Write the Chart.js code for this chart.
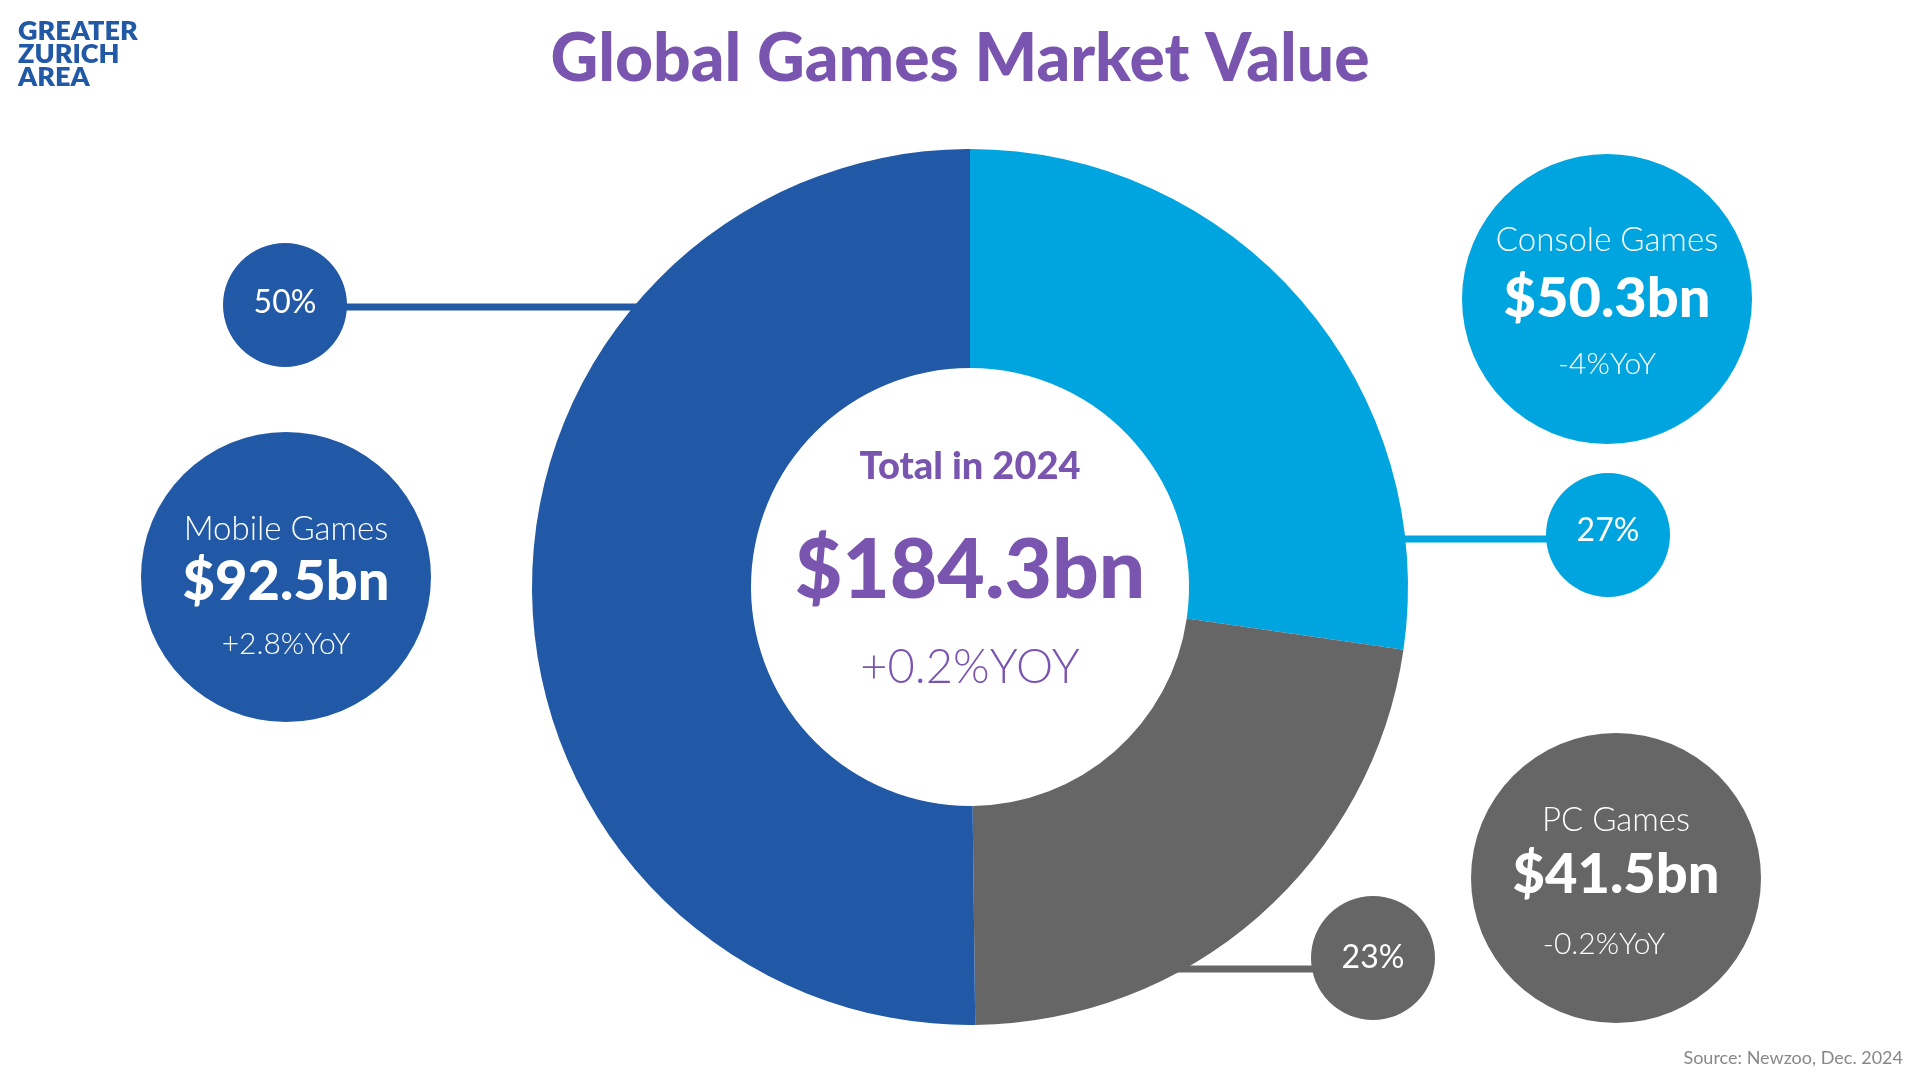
<!DOCTYPE html>
<html><head><meta charset="utf-8">
<script src="https://cdn.jsdelivr.net/npm/chart.js@4"></script>
<style>html,body{margin:0;padding:0;background:#fff}#w{width:1920px;height:1080px;position:relative}</style>
</head><body><div id="w"><canvas id="c" width="1920" height="1080"></canvas></div>
<script>
const categories = ["Console Games", "PC Games", "Mobile Games"];
const values = [50.3, 41.5, 92.5];
const valueLabels = ["$50.3bn", "$41.5bn", "$92.5bn"];
const shareLabels = ["27%", "23%", "50%"];
const yoyLabels = ["-4%YoY", "-0.2%YoY", "+2.8%YoY"];
const colors = ["#00A5DF", "#666666", "#2159A6"];
const purple = "#7A55B0";
const F = "Lato, 'Open Sans', sans-serif";

function circle(ctx,x,y,r,col){ctx.beginPath();ctx.arc(x,y,r,0,Math.PI*2);ctx.fillStyle=col;ctx.fill();}
function txt(ctx,s,x,y,size,weight,col,align){ctx.font=weight+" "+size+"px "+F;ctx.fillStyle=col;ctx.textAlign=align||"center";ctx.textBaseline="middle";ctx.fillText(s,x,y);}
function line(ctx,x1,y1,x2,y2,col){ctx.beginPath();ctx.moveTo(x1,y1);ctx.lineTo(x2,y2);ctx.strokeStyle=col;ctx.lineWidth=7;ctx.stroke();}

const deco = {
  id:"deco",
  beforeDatasetsDraw(chart){
    const ctx=chart.ctx;
    line(ctx,340,307,650,307,colors[2]);
    line(ctx,1390,539,1550,539,colors[0]);
    line(ctx,1170,969,1320,969,colors[1]);
  },
  afterDraw(chart){
    const ctx=chart.ctx;
    ctx.save();
    ctx.font="800 27px "+F;ctx.fillStyle="#2159A6";ctx.textAlign="left";ctx.textBaseline="middle";
    ctx.fillText("GREATER",18,31);ctx.fillText("ZURICH",18,54);ctx.fillText("AREA",18,77);
    txt(ctx,"Global Games Market Value",960,60,66,"900",purple);
    txt(ctx,"Total in 2024",970,467,38,"900",purple);
    txt(ctx,"$184.3bn",970,572,82,"900",purple);
    txt(ctx,"+0.2%YOY",970,668,47,"300",purple);
    circle(ctx,285,305,62,colors[2]);txt(ctx,shareLabels[2],285,303,32,"400","#fff");
    circle(ctx,1608,535,62,colors[0]);txt(ctx,shareLabels[0],1608,531,32,"400","#fff");
    circle(ctx,1373,958,62,colors[1]);txt(ctx,shareLabels[1],1373,958,32,"400","#fff");
    const big=[[1607,299,0,[240,299,364]],[1616,878,1,[820,875,944]],[286,577,2,[529,582,644]]];
    big.forEach(([x,y,i,ys])=>{
      circle(ctx,x,y,145,colors[i]);
      txt(ctx,categories[i],x,ys[0],33,"300","#fff");
      txt(ctx,valueLabels[i],x,ys[1],56,"900","#fff");
      txt(ctx,yoyLabels[i],x-(i===1?12:0),ys[2],30,"300","#fff");
    });
    txt(ctx,"Source: Newzoo, Dec. 2024",1903,1058,18,"400","#888","right");
    ctx.restore();
  }
};

new Chart(document.getElementById("c"),{
  type:"doughnut",
  data:{labels:categories,datasets:[{data:values,backgroundColor:colors,borderWidth:0,hoverOffset:0}]},
  options:{responsive:false,animation:false,cutout:"50%",
    layout:{padding:{left:532,right:512,top:149,bottom:55}},
    plugins:{legend:{display:false},tooltip:{enabled:false}}},
  plugins:[deco]
});
</script></body></html>
